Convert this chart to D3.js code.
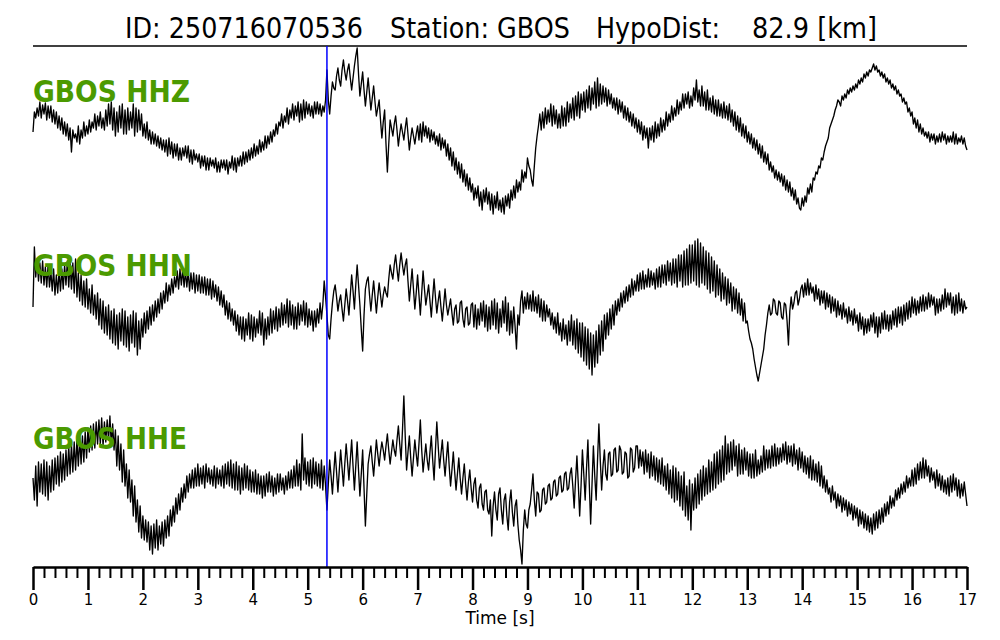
<!DOCTYPE html>
<html>
<head>
<meta charset="utf-8">
<script src="https://cdn.jsdelivr.net/npm/d3@7"></script>
<style>
  html, body { margin: 0; padding: 0; background: #fff; }
  svg { display: block; }
</style>
</head>
<body>
<svg id="chart" width="1000" height="640"></svg>
<script>
// ---------------- DATA ----------------
const titleText = "ID: 250716070536   Station: GBOS   HypoDist:    82.9 [km]";
const channels = ["GBOS HHZ", "GBOS HHN", "GBOS HHE"];
const sampleInterval = 0.025;  // seconds between digitised samples
const pickTime = 5.35;         // P pick (blue line), s
const tickLabels = d3.range(0, 18);   // 0..17 s
const xAxisLabel = "Time [s]";

// normalised amplitudes, one row per second (40 samples), final sample at 17.00 s
const hhz = [].concat(
  [-2,18,12,22,14,28,12,25,16,27,10,24,12,24,8,20,6,18,2,14,0,12,-4,8,-6,6,-10,2,-22,0,-8,-4,-12,4,-14,0,-8,8,-6,4],
  [-4,10,-2,8,2,16,0,14,4,18,2,12,0,20,4,26,6,28,0,22,-6,18,-2,24,2,26,-4,20,-4,22,0,18,2,26,-6,22,-2,20,0,16],
  [-6,6,-8,8,-10,0,-14,-2,-14,-4,-16,-6,-18,-8,-20,-10,-22,-10,-26,-8,-24,-12,-28,-14,-26,-14,-30,-18,-30,-18,-26,-16,-28,-16,-32,-20,-34,-20,-30,-24],
  [-32,-24,-38,-26,-36,-26,-40,-28,-40,-28,-36,-30,-38,-28,-42,-32,-42,-30,-38,-30,-40,-30,-44,-32,-38,-26,-40,-28,-42,-28,-36,-26,-36,-22,-34,-22,-32,-20,-30,-18],
  [-28,-14,-26,-16,-24,-10,-22,-12,-20,-6,-18,-6,-14,-2,-12,0,-6,6,-4,8,4,16,2,14,8,22,6,20,12,26,10,24,14,28,8,26,10,30,12,28],
  [16,26,14,24,12,28,16,28,16,26,14,24,18,30,60,30,16,34,48,42,40,54,62,50,44,60,70,58,50,60,66,52,40,52,64,74,82,56,34,46],
  [58,40,24,38,52,36,20,32,44,28,14,22,30,10,-8,8,20,-14,-42,-14,10,2,-6,6,14,0,-16,-4,6,-2,-10,2,12,-4,-20,-8,2,-6,-14,-4],
  [4,-10,6,-12,8,-6,4,-8,2,-12,0,-10,-2,-14,-6,-16,-4,-20,-8,-18,-10,-26,-14,-30,-18,-36,-22,-40,-28,-44,-32,-48,-34,-52,-40,-56,-44,-60,-48,-62],
  [-54,-70,-58,-68,-56,-76,-62,-80,-60,-72,-58,-74,-62,-80,-64,-84,-66,-78,-62,-80,-70,-82,-68,-84,-66,-76,-64,-78,-60,-70,-56,-68,-50,-62,-52,-60,-40,-52,-42,-48],
  [-28,-36,-40,-50,-56,-36,-18,-6,4,16,0,18,2,22,6,20,8,26,4,24,6,20,2,16,2,24,4,22,4,28,8,26,12,32,10,34,14,38,12,36],
  [20,38,18,40,22,44,20,42,26,48,22,52,24,46,26,44,28,42,24,40,26,36,22,32,20,32,16,30,18,28,12,24,10,22,8,18,4,16,2,12],
  [-2,10,-4,8,-10,4,-8,2,-18,2,-10,4,-12,8,-8,6,-6,12,-2,10,0,18,4,16,8,24,10,22,14,30,16,28,20,36,22,36,26,38,22,34],
  [24,42,30,50,28,40,24,44,24,38,20,40,20,32,18,34,16,30,14,30,14,26,12,28,12,24,10,26,8,20,4,18,0,14,-2,12,-6,6,-8,4],
  [-12,-2,-14,-4,-18,-8,-20,-10,-24,-14,-28,-16,-32,-22,-34,-24,-40,-32,-42,-36,-48,-40,-50,-42,-52,-44,-56,-46,-60,-50,-62,-52,-66,-58,-70,-60,-74,-68,-78,-80],
  [-68,-76,-66,-72,-58,-64,-54,-62,-48,-50,-42,-44,-36,-38,-28,-30,-22,-16,-12,-8,2,6,10,14,20,24,30,28,24,34,30,36,32,40,36,42,38,44,40,46],
  [42,50,46,52,48,56,52,58,54,60,58,62,66,60,64,58,60,54,58,52,56,48,52,46,50,42,46,40,44,36,40,34,36,28,32,26,28,18,22,14],
  [18,6,12,2,10,-2,6,-4,2,-6,-2,-8,-2,-12,-4,-10,-4,-14,-6,-12,-4,-12,-2,-10,-4,-14,-6,-12,-6,-12,-2,-14,-4,-14,-8,-12,-6,-14,-8,-16],
  [-20]
);

const hhn = [].concat(
  [-2,58,28,46,24,42,22,44,20,38,18,40,18,34,14,36,10,30,12,34,14,36,16,40,20,44,18,42,16,42,12,46,8,32,4,30,0,24,-2,26],
  [-4,16,-8,20,-10,10,-14,12,-20,6,-24,4,-28,-2,-30,0,-34,-6,-38,-4,-40,-10,-44,-8,-36,-4,-40,-6,-42,-12,-46,-10,-38,-6,-42,-8,-50,-16,-44,-14],
  [-32,-8,-28,-6,-24,-2,-20,0,-16,4,-12,6,-8,12,-4,14,2,22,4,20,10,26,12,28,18,34,16,36,20,36,18,34,18,34,14,32,16,32,12,30],
  [14,30,12,28,12,28,10,26,10,26,6,24,8,20,4,18,0,14,-2,10,-10,4,-14,2,-16,-4,-20,-6,-26,-10,-30,-12,-34,-12,-36,-14,-30,-8,-34,-10],
  [-36,-12,-32,-14,-28,-6,-30,-8,-40,-14,-34,-12,-30,-4,-28,-6,-24,-2,-26,-4,-22,2,-20,0,-18,6,-22,4,-20,0,-24,-2,-24,2,-20,0,-16,4,-20,2],
  [-22,-4,-20,-6,-26,-6,-22,-4,-18,2,-14,0,24,8,-10,-30,-34,-14,2,14,20,8,-6,4,10,-4,-16,0,16,4,-10,10,30,14,-4,20,40,20,0,-24],
  [-46,-10,16,24,28,10,-6,10,24,8,-8,8,22,10,-2,10,18,12,8,26,40,32,26,40,50,36,24,40,52,40,30,40,46,24,4,20,36,16,-4,12],
  [30,10,-10,12,34,16,0,10,20,4,-12,8,26,8,-8,4,14,-2,-16,0,16,0,-10,-2,6,-8,-20,-4,0,-18,-16,2,4,-14,-22,-4,-2,-20,-18,0],
  [2,-22,0,-24,-4,-20,2,-16,4,-22,0,-26,-2,-24,4,-20,6,-24,2,-28,-4,-22,4,-18,8,-26,2,-30,-6,-28,-2,-22,-44,-10,-20,4,14,-8,8,-4],
  [12,-4,10,-6,14,-6,8,-8,10,-12,6,-16,4,-16,0,-12,-4,-20,-8,-24,-12,-28,-8,-30,-18,-36,-14,-34,-20,-40,-16,-36,-10,-40,-16,-44,-14,-48,-18,-52],
  [-18,-56,-22,-60,-24,-64,-28,-70,-30,-62,-26,-58,-20,-50,-16,-46,-10,-34,-8,-30,-4,-24,0,-20,4,-10,6,-6,12,-2,14,2,18,4,20,8,26,10,24,14],
  [30,14,32,16,34,16,30,18,36,18,34,20,32,16,36,18,38,18,40,22,40,20,44,24,42,20,46,22,46,18,50,24,50,18,54,20,56,20,60,22],
  [60,24,64,20,66,18,62,22,58,20,54,16,52,12,48,14,44,8,40,10,36,4,32,6,28,0,26,2,22,-6,18,-4,16,-8,12,-10,6,-16,2,-18],
  [-16,-26,-34,-38,-44,-54,-62,-70,-76,-68,-60,-52,-44,-30,-20,-8,0,-10,-8,6,4,-8,-10,4,2,-12,-14,2,0,-16,-40,-6,8,-4,2,12,14,0,6,16],
  [20,8,22,10,26,10,22,12,18,4,20,6,16,0,14,2,14,-4,12,-2,10,-8,8,-6,6,-12,4,-10,0,-14,2,-12,-4,-18,-2,-16,-6,-20,-4,-18],
  [-10,-26,-8,-24,-12,-30,-14,-28,-14,-26,-10,-22,-8,-28,-12,-32,-12,-28,-8,-24,-6,-24,-10,-26,-10,-24,-6,-20,-4,-22,-2,-18,-2,-20,0,-16,2,-14,4,-12],
  [8,-8,6,-10,4,-8,8,-6,10,-6,8,-4,12,-2,10,0,8,-10,6,-8,6,-6,10,-4,16,-2,12,0,12,-8,8,-10,10,-8,12,-6,6,-8,4,-4],
  [-2]
);

const hhe = [].concat(
  [2,-20,14,-26,18,-12,16,-14,20,-16,18,-20,14,-12,20,-10,22,-4,24,-6,28,-2,26,0,30,4,34,6,36,8,38,10,40,14,42,16,44,18,48,22],
  [52,28,54,30,56,32,58,36,60,36,62,34,58,38,60,40,64,34,56,30,50,14,44,10,36,-2,30,-6,16,-18,10,-22,0,-36,-6,-42,-20,-52,-26,-58],
  [-36,-60,-40,-62,-42,-70,-46,-74,-44,-68,-40,-70,-46,-64,-42,-66,-40,-58,-36,-56,-30,-46,-26,-42,-18,-34,-14,-30,-8,-22,-4,-18,4,-12,6,-8,10,-8,12,-6],
  [16,-6,12,-4,14,-8,16,-2,12,-4,10,-6,14,-8,12,-4,10,-6,14,-8,16,-4,18,-6,20,-8,16,-10,18,-10,14,-14,12,-10,16,-8,14,-10,10,-12],
  [8,-12,10,-14,6,-14,4,-18,4,-16,6,-12,8,-12,4,-16,2,-14,6,-12,6,-10,2,-14,4,-10,8,-8,10,-8,14,-6,20,-6,16,-10,46,0,22,-4],
  [18,-6,20,-8,22,-4,18,-6,16,-8,20,-10,14,-6,-30,-4,20,4,-14,8,28,8,-12,10,30,12,-6,16,36,18,0,20,40,14,-10,14,38,10,-16,6],
  [30,-8,-46,-14,16,26,34,18,4,22,40,26,14,28,38,30,20,34,46,30,16,28,40,30,24,40,54,36,20,50,84,44,10,28,44,22,4,22,40,26],
  [14,36,60,30,8,22,36,20,10,28,44,20,0,30,58,34,12,26,40,20,4,22,38,14,-6,10,28,8,-10,6,22,2,-14,2,16,-4,-20,-2,10,-8],
  [-22,-4,2,-20,-28,-8,-4,-24,-30,-12,-10,-30,-34,-20,-56,-26,-12,-30,-40,-14,-8,-30,-44,-20,-14,-36,-50,-22,-10,-32,-46,-26,-20,-44,-60,-70,-84,-50,-30,-44],
  [-48,-30,-24,-10,6,-20,-36,-12,-14,-32,-30,-10,-8,-24,-22,-6,-4,-20,-18,-2,0,-16,-14,2,4,-12,-10,6,8,-10,-8,6,12,-6,-28,0,24,-4,-36,-6],
  [30,6,-20,12,40,-4,-44,-4,34,4,-20,20,56,20,-10,14,30,6,0,26,28,4,6,30,32,8,10,34,30,6,8,28,26,2,4,32,30,8,12,34],
  [34,12,30,14,28,6,30,8,26,2,28,4,24,0,22,-2,20,-4,22,-6,14,-10,16,-14,10,-18,14,-22,12,-20,8,-26,4,-30,8,-36,-6,-40,0,-50],
  [-4,-30,2,-28,6,-24,10,-20,14,-16,12,-14,20,-12,18,-10,26,-8,28,-4,30,-2,34,0,44,6,36,8,38,10,40,14,34,4,36,6,30,6,32,10],
  [28,4,26,2,26,2,30,4,20,6,24,8,34,10,30,12,30,12,34,14,36,14,32,16,32,18,36,20,38,16,34,18,34,14,36,16,30,10,32,12],
  [28,8,24,6,22,2,24,0,20,0,16,-2,18,-6,14,-8,4,-12,0,-14,-8,-22,-6,-20,-12,-28,-14,-26,-16,-32,-18,-30,-20,-36,-22,-34,-24,-40,-26,-38],
  [-28,-46,-30,-44,-32,-48,-34,-50,-36,-52,-38,-54,-34,-50,-32,-48,-30,-44,-28,-42,-24,-36,-22,-34,-16,-28,-18,-26,-10,-20,-8,-18,-4,-14,-2,-12,4,-8,2,-6],
  [10,-6,12,-4,16,0,18,2,22,2,20,4,14,-2,12,0,8,-8,10,-6,6,-10,4,-12,0,-14,2,-16,4,-12,6,-10,2,-16,0,-18,-4,-16,-2,-14],
  [-26]
);

const traces = [hhz, hhn, hhe];

// ---------------- LAYOUT ----------------
const svg = d3.select("#chart");
const left = 33, right = 967;
const axisY = 567, topLine = 46;
const traceCenters = [130, 305, 480];
const labelBaselines = [102, 276, 449];
const labelWidths = [157, 159, 154];
const green = "#4b9a00";
const titlePartX = [125, 390, 596, 752];
const titlePartW = [238, 180, 124, 125];

const x = d3.scaleLinear().domain([0, 17]).range([left, right]);

// title (split at the wide gaps, each piece placed where the reference shows it)
const titleParts = titleText.split(/\s{3,}/);
svg.append("g").selectAll("text")
  .data(titleParts)
  .join("text")
  .attr("x", (d, i) => titlePartX[i]).attr("y", 38)
  .attr("textLength", (d, i) => titlePartW[i]).attr("lengthAdjust", "spacingAndGlyphs")
  .style("font-family", "DejaVu Sans")
  .style("font-size", "29px")
  .style("fill", "#000")
  .text(d => d);

svg.append("line")
  .attr("x1", left).attr("x2", right)
  .attr("y1", topLine).attr("y2", topLine)
  .attr("stroke", "#000").attr("stroke-width", 1.5);

// traces
traces.forEach((vals, k) => {
  const c = traceCenters[k];
  const y = d3.scaleLinear().domain([-100, 100]).range([c + 100, c - 100]);
  const line = d3.line()
    .x((d, i) => x(i * sampleInterval))
    .y(d => y(d));
  svg.append("path")
    .datum(vals)
    .attr("d", line)
    .attr("fill", "none")
    .attr("stroke", "#000")
    .attr("stroke-width", 1.35)
    .attr("stroke-linejoin", "round");
});

// channel labels (drawn on top of traces)
channels.forEach((name, k) => {
  svg.append("text")
    .attr("x", left).attr("y", labelBaselines[k])
    .attr("textLength", labelWidths[k]).attr("lengthAdjust", "spacingAndGlyphs")
    .style("font-family", "DejaVu Sans")
    .style("font-weight", "bold")
    .style("font-size", "30px")
    .style("fill", green)
    .text(name);
});

// pick line
svg.append("line")
  .attr("x1", x(pickTime)).attr("x2", x(pickTime))
  .attr("y1", topLine).attr("y2", axisY)
  .attr("stroke", "#0000ff").attr("stroke-width", 1.5);

// axis: minor ticks
const minorTicks = d3.range(0, 17 * 5 + 1).map(i => i / 5).filter(v => Math.abs(v - Math.round(v)) > 1e-6);
const gMinor = svg.append("g").attr("transform", `translate(0,${axisY})`)
  .call(d3.axisBottom(x).tickValues(minorTicks).tickSize(11).tickSizeOuter(0).tickFormat(""));
gMinor.select(".domain").remove();
gMinor.selectAll(".tick line").attr("stroke", "#000").attr("stroke-width", 2);

// axis: major ticks + labels
const gMajor = svg.append("g").attr("transform", `translate(0,${axisY})`)
  .call(d3.axisBottom(x).tickValues(tickLabels).tickSize(23).tickSizeOuter(0).tickPadding(4).tickFormat(d3.format("d")));
gMajor.select(".domain").attr("stroke", "#000").attr("stroke-width", 2.5);
gMajor.selectAll(".tick line").attr("stroke", "#000").attr("stroke-width", 2.5);
gMajor.selectAll(".tick text")
  .style("font-family", "DejaVu Sans")
  .style("font-size", "15px")
  .style("fill", "#000");

svg.append("text")
  .attr("x", 500).attr("y", 624)
  .attr("text-anchor", "middle")
  .style("font-family", "DejaVu Sans")
  .style("font-size", "17px")
  .style("fill", "#000")
  .text(xAxisLabel);
</script>
</body>
</html>
